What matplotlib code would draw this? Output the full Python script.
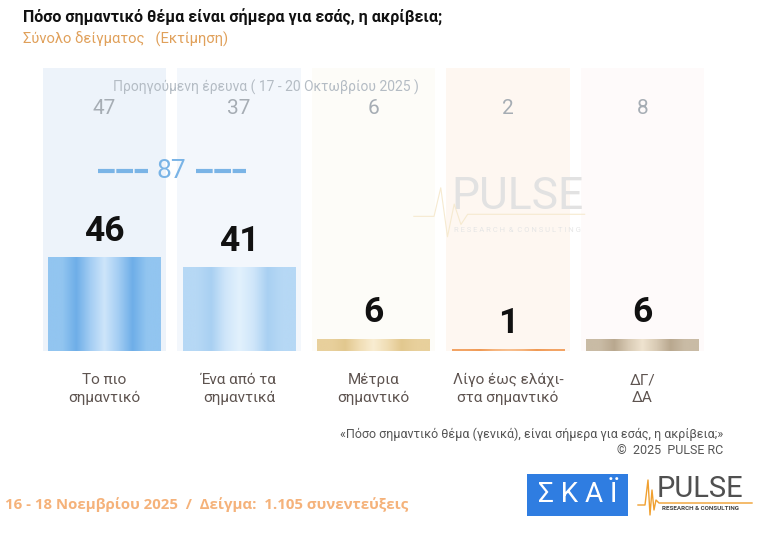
import numpy as np
import matplotlib
matplotlib.use('Agg')
import matplotlib.pyplot as plt
from matplotlib.colors import LinearSegmentedColormap
from matplotlib.patches import Rectangle

# data
categories = ['Το πιο\nσημαντικό', 'Ένα από τα\nσημαντικά', 'Μέτρια\nσημαντικό',
              'Λίγο έως ελάχι-\nστα σημαντικό', 'ΔΓ/\nΔΑ']
current = [46, 41, 6, 1, 6]
previous = [47, 37, 6, 2, 8]
combined_top2 = 87
prev_label = 'Προηγούμενη έρευνα ( 17 - 20 Οκτωβρίου 2025 )'

REG = ['Roboto', 'DejaVu Sans']

# gradient stops per bar (left -> right)
bar_grads = [
    ['#92c5f0', '#92c5f0', '#6eaee8', '#a3cdf3', '#cde5fa', '#a3cdf3', '#6eaee8', '#92c5f0', '#92c5f0'],
    ['#b6d8f5', '#b6d8f5', '#a9d0f2', '#cfe6fa', '#e2f1fd', '#cfe6fa', '#a9d0f2', '#b6d8f5', '#b6d8f5'],
    ['#e8d09c', '#e8d09c', '#e2c88f', '#f0ddb4', '#f9edd2', '#f0ddb4', '#e2c88f', '#e8d09c', '#e8d09c'],
    ['#f3a465', '#f3a465', '#f09a55', '#f6b57e', '#f8c090', '#f6b57e', '#f09a55', '#f3a465', '#f3a465'],
    ['#c9bba5', '#c9bba5', '#b9a88f', '#d8cab4', '#efe3cf', '#d8cab4', '#b9a88f', '#c9bba5', '#c9bba5'],
]
col_bg = ['#edf3fa', '#f3f7fc', '#fdfcf8', '#fef7f1', '#fefafa']

fig = plt.figure(figsize=(7.84, 5.48), dpi=100)
ax = fig.add_axes([37.25 / 784, 197 / 548, 672.5 / 784, 283 / 548])
ax.axis('off')

x = np.arange(len(categories))
bw = 0.84

# background columns
for i in x:
    ax.add_patch(Rectangle((i - 0.46, 0), 0.92, 138.7, color=col_bg[i], zorder=0, lw=0))

# watermark
ax.text(3.07, 75.5, 'PULSE', fontsize=32, color='#e2e2e2', ha='center', va='center',
        family=REG, zorder=1)
ax.text(3.07, 59.3, 'R E S E A R C H  &  C O N S U L T I N G', fontsize=5.5,
        color='#e6e6e6', ha='center', va='center', family=REG, zorder=1)
ax.plot([2.3, 2.45, 2.5, 2.55, 2.6, 2.65, 2.7, 3.57], [66, 66, 80, 56, 72, 62, 67, 67],
        color='#f6ead0', lw=0.8, zorder=1)

# bars with gradient
bars = ax.bar(x, current, width=bw, color='none', zorder=2)
grad = np.linspace(0, 1, 256).reshape(1, -1)
for i, b in enumerate(bars):
    cmap = LinearSegmentedColormap.from_list('g%d' % i, bar_grads[i])
    x0 = b.get_x()
    im = ax.imshow(grad, cmap=cmap, aspect='auto', zorder=2,
                   extent=[x0, x0 + b.get_width(), 0, b.get_height()])
    im.set_clip_path(b)
ax.set_xlim(-0.5, 4.5)
ax.set_ylim(0, 138.7)

# current values
for i, v in enumerate(current):
    ax.text(i, v + 12.7, str(v), ha='center', va='center', fontsize=25.5,
            fontweight='bold', color='#111111', family=REG, zorder=3)

# previous values
for i, v in enumerate(previous):
    ax.text(i, 119, str(v), ha='center', va='center', fontsize=15,
            color='#a6adb4', family=REG, zorder=3)
ax.text(1.2, 129.4, prev_label, ha='center', va='center', fontsize=10,
        color='#b4bcc4', family=REG, zorder=3)

# top-2 total
ax.text(0.5, 88.2, str(combined_top2), ha='center', va='center', fontsize=19,
        color='#7ab4e6', family=REG, zorder=3)
ax.plot([-0.05, 0.32], [88.2, 88.2], color='#7ab4e6', lw=3, dashes=(4, 0.4),
        solid_capstyle='butt', zorder=3)
ax.plot([0.68, 1.05], [88.2, 88.2], color='#7ab4e6', lw=3, dashes=(4, 0.4),
        solid_capstyle='butt', zorder=3)

# category labels
for i, c in enumerate(categories):
    ax.text(i, -18.6, c, ha='center', va='center', fontsize=11, color='#5e5450',
            family=REG, linespacing=1.3, clip_on=False)

# title and subtitle
fig.text(23 / 784, 1 - 17 / 548, 'Πόσο σημαντικό θέμα είναι σήμερα για εσάς, η ακρίβεια;',
         fontsize=11.5, fontweight='bold', color='#111111', family=REG, va='center')
fig.text(23 / 784, 1 - 39 / 548, 'Σύνολο δείγματος   (Εκτίμηση)', fontsize=10.6,
         color='#e0a05a', family=REG, va='center')

# notes
fig.text(723 / 784, 1 - 434 / 548,
         '«Πόσο σημαντικό θέμα (γενικά), είναι σήμερα για εσάς, η ακρίβεια;»',
         fontsize=9, color='#555555', family=REG, ha='right', va='center')
fig.text(723 / 784, 1 - 451 / 548, '©  2025  PULSE RC', fontsize=9, color='#555555',
         family=REG, ha='right', va='center')
fig.text(5 / 784, 1 - 505 / 548, '16 - 18 Νοεμβρίου 2025  /  Δείγμα:  1.105 συνεντεύξεις',
         fontsize=10.8, fontweight='bold', color='#f5b27a', family=['Open Sans', 'DejaVu Sans'],
         va='center')

# logos
fig.patches.append(Rectangle((527 / 784, 1 - 516 / 548), 101 / 784, 42 / 548,
                             transform=fig.transFigure, color='#2f7de1', lw=0))
fig.text(577.5 / 784, 1 - 495 / 548, 'Σ Κ Α Ϊ', fontsize=20, color='white', family=REG,
         ha='center', va='center')
fig.text(700 / 784, 1 - 489 / 548, 'PULSE', fontsize=21, color='#505050', family=REG,
         ha='center', va='center')
fig.text(700 / 784, 1 - 509 / 548, 'RESEARCH & CONSULTING', fontsize=4.5, color='#444444',
         family=REG, ha='center', va='center', fontweight='bold')
px = np.array([638, 645, 648, 650, 652, 654, 656, 659, 752]) / 784
py = 1 - np.array([505, 505, 480, 515, 490, 510, 500, 503, 503]) / 548
fig.add_artist(plt.Line2D(px, py, color='#f0a030', lw=1, transform=fig.transFigure))

fig.savefig('out.png', dpi=100)
